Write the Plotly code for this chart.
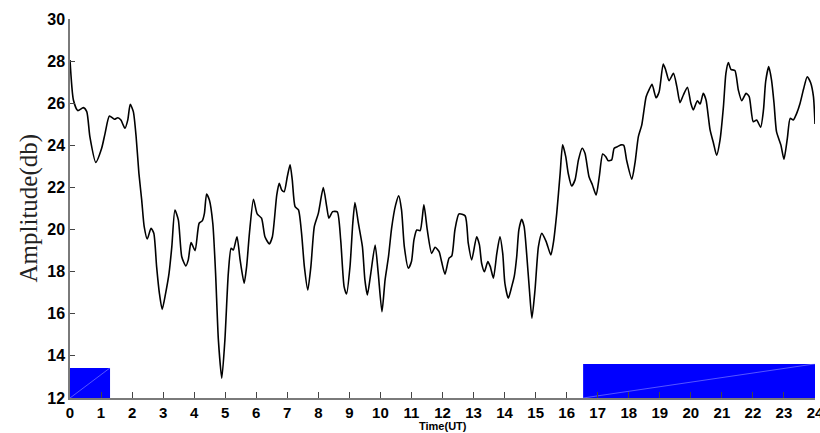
import plotly.graph_objects as go

# Time (UT hours) and amplitude (dB)
time_ut = [0.0, 0.11, 0.25, 0.43, 0.54, 0.64, 0.83, 1.02, 1.13, 1.27, 1.43, 1.54, 1.64, 1.77, 1.86, 1.94,
           2.04, 2.13, 2.22, 2.31, 2.39, 2.49, 2.61, 2.70, 2.79, 2.88, 2.97, 3.08, 3.19, 3.28, 3.38, 3.49,
           3.60, 3.73, 3.81, 3.90, 4.03, 4.16, 4.26, 4.33, 4.40, 4.49, 4.60, 4.69, 4.78, 4.89, 4.99, 5.10,
           5.19, 5.26, 5.38, 5.48, 5.61, 5.69, 5.78, 5.91, 6.03, 6.17, 6.28, 6.42, 6.52, 6.66, 6.74, 6.82,
           6.90, 7.00, 7.09, 7.16, 7.25, 7.36, 7.46, 7.55, 7.66, 7.76, 7.87, 8.00, 8.16, 8.27, 8.34, 8.46,
           8.61, 8.72, 8.83, 8.91, 9.02, 9.11, 9.18, 9.29, 9.42, 9.50, 9.58, 9.69, 9.83, 9.93, 10.05, 10.15,
           10.26, 10.36, 10.49, 10.59, 10.68, 10.77, 10.90, 11.00, 11.08, 11.17, 11.28, 11.40, 11.51, 11.65,
           11.76, 11.89, 11.97, 12.08, 12.21, 12.30, 12.40, 12.53, 12.73, 12.83, 12.94, 13.10, 13.19, 13.26,
           13.35, 13.46, 13.54, 13.64, 13.75, 13.85, 13.94, 14.01, 14.12, 14.23, 14.31, 14.39, 14.46, 14.55,
           14.63, 14.71, 14.80, 14.88, 14.98, 15.09, 15.20, 15.34, 15.49, 15.57, 15.68, 15.79, 15.87, 15.97,
           16.05, 16.16, 16.27, 16.38, 16.50, 16.59, 16.72, 16.83, 16.95, 17.05, 17.16, 17.26, 17.34, 17.45,
           17.53, 17.64, 17.75, 17.84, 17.93, 18.10, 18.20, 18.31, 18.42, 18.56, 18.66, 18.75, 18.88, 18.98,
           19.11, 19.19, 19.30, 19.44, 19.55, 19.65, 19.76, 19.89, 20.00, 20.08, 20.21, 20.30, 20.40, 20.49,
           20.62, 20.73, 20.83, 20.94, 21.05, 21.13, 21.21, 21.29, 21.42, 21.53, 21.64, 21.78, 21.88, 22.01,
           22.12, 22.25, 22.34, 22.41, 22.51, 22.60, 22.68, 22.76, 22.90, 23.00, 23.11, 23.20, 23.30, 23.41,
           23.52, 23.63, 23.75, 23.86, 23.95, 24.0]

amplitude = [28.05, 26.15, 25.65, 25.79, 25.60, 24.41, 23.19, 23.86, 24.57, 25.39, 25.24, 25.31, 25.20, 24.81, 25.20, 25.95,
             25.60, 24.41, 22.67, 21.40, 20.14, 19.55, 20.06, 19.82, 18.24, 16.97, 16.21, 16.97, 17.92, 19.19, 20.93, 20.46,
             18.71, 18.27, 18.56, 19.38, 19.00, 20.30, 20.41, 20.77, 21.69, 21.40, 20.30, 17.92, 14.76, 12.94, 14.76, 17.92,
             19.11, 19.03, 19.66, 18.56, 17.45, 18.24, 19.82, 21.44, 20.74, 20.54, 19.66, 19.32, 19.66, 21.64, 22.20, 21.88,
             21.80, 22.51, 23.07, 22.36, 21.09, 20.93, 19.82, 18.24, 17.13, 18.24, 20.14, 20.77, 21.99, 21.09, 20.54, 20.85,
             20.84, 19.51, 17.29, 16.94, 18.24, 20.30, 21.28, 20.30, 19.19, 17.61, 16.90, 17.92, 19.27, 17.92, 16.10, 17.61,
             18.71, 20.06, 21.17, 21.60, 20.93, 19.19, 18.16, 18.48, 19.51, 19.98, 19.95, 21.17, 19.98, 18.87,
             19.16, 18.95, 18.48, 17.88, 18.64, 18.75, 19.98, 20.74, 20.65, 19.35, 18.56, 19.66, 19.27, 18.40,
             18.00, 18.48, 18.24, 17.69, 18.87, 19.66, 18.87, 17.45, 16.74, 17.29, 17.76, 18.71, 19.98, 20.49,
             20.14, 18.87, 17.13, 15.79, 17.13, 19.19, 19.82, 19.43, 18.79, 19.35, 20.77, 22.67, 24.02, 23.46,
             22.67, 22.07, 22.36, 23.31, 23.86, 23.62, 22.51, 22.12, 21.64, 22.51, 23.59, 23.46, 23.27, 23.31,
             23.86, 23.94, 24.02, 24.00, 23.30, 22.39, 23.15, 24.41, 24.97, 26.31, 26.66, 26.90, 26.26, 26.55,
             27.86, 27.58, 27.07, 27.42, 26.79, 26.03, 26.39, 26.76, 26.00, 25.68, 26.12, 25.96, 26.47, 26.15,
             24.73, 24.10, 23.53, 24.25, 25.84, 27.42, 27.93, 27.61, 27.55, 26.63, 26.12, 26.47, 26.31, 25.12,
             25.20, 24.86, 25.68, 27.02, 27.74, 27.10, 26.00, 24.65, 24.02, 23.34, 24.34, 25.28, 25.20, 25.52,
             26.00, 26.66, 27.26, 26.97, 26.31, 25.01]

# Blue bands at the bottom (start, end hour, top value)
band_start = [0.0, 16.53]
band_end = [1.29, 24.0]
band_top = [13.43, 13.62]

x_ticks = list(range(0, 25))
y_ticks = [12, 14, 16, 18, 20, 22, 24, 26, 28, 30]

fig = go.Figure()

for x0, x1, top in zip(band_start, band_end, band_top):
    fig.add_trace(go.Scatter(
        x=[x0, x1, x1, x0, x0], y=[12, 12, top, top, 12],
        mode="lines", fill="toself", fillcolor="#0000FF",
        line=dict(color="#0000FF", width=0), hoverinfo="skip", showlegend=False))
    fig.add_trace(go.Scatter(
        x=[x0, x1], y=[12, top], mode="lines",
        line=dict(color="rgba(180,180,255,0.8)", width=0.6),
        hoverinfo="skip", showlegend=False))

fig.add_trace(go.Scatter(
    x=time_ut, y=amplitude, mode="lines",
    line=dict(color="black", width=1.6, shape="spline", smoothing=0.6),
    showlegend=False))

fig.update_layout(
    width=820, height=433,
    margin=dict(l=70, r=5, t=19, b=35),
    paper_bgcolor="white", plot_bgcolor="white",
    showlegend=False,
    xaxis=dict(
        range=[0, 24], tickmode="array", tickvals=x_ticks, ticktext=[str(v) for v in x_ticks],
        showgrid=False, zeroline=False, showline=True, linecolor="#7a7a7a", linewidth=1.5,
        ticks="inside", ticklen=6, tickcolor="#444444", tickwidth=1, automargin=False,
        ticklabeloverflow="allow",
        tickfont=dict(family="Liberation Sans, Arial", size=15, color="black", weight="bold"),
    ),
    yaxis=dict(
        range=[12, 30], tickmode="array", tickvals=y_ticks, ticktext=[str(v) for v in y_ticks],
        showgrid=False, zeroline=False, showline=True, linecolor="#7a7a7a", linewidth=1.5,
        ticks="inside", ticklen=5, tickcolor="#444444", tickwidth=1, automargin=False,
        ticklabeloverflow="allow",
        tickfont=dict(family="Liberation Sans, Arial", size=16, color="black", weight="bold"),
    ),
    annotations=[
        dict(text="Time(UT)", xref="paper", yref="paper", x=0.5, y=0, xanchor="center", yanchor="top",
             yshift=-20, showarrow=False,
             font=dict(family="Liberation Sans, Arial", size=11, color="black", weight="bold")),
        dict(text="Amplitude(db)", xref="paper", yref="paper", x=0, y=0.5, xanchor="center", yanchor="middle",
             xshift=-42, textangle=-90, showarrow=False,
             font=dict(family="Liberation Serif, Times New Roman", size=25, color="#222222")),
    ],
)

fig.write_html("out.html", config={"displayModeBar": False},
               post_script="document.body.style.margin='0';document.body.style.overflow='hidden';")
